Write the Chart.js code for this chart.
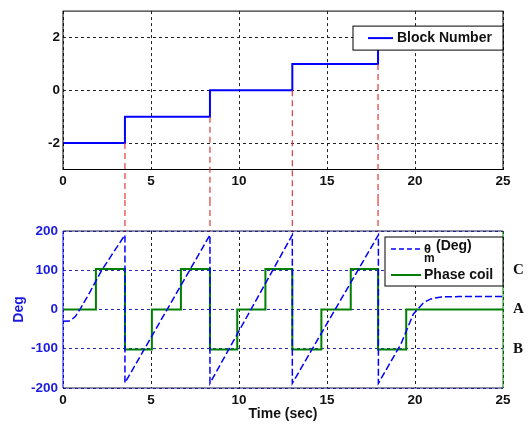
<!DOCTYPE html>
<html>
<head>
<meta charset="utf-8">
<script src="https://cdn.jsdelivr.net/npm/chart.js@4"></script>
<style>
  body { margin: 0; background: #fff; }
  #wrap { position: relative; width: 528px; height: 425px; }
  canvas { position: absolute; left: 0; }
  #top-chart { top: 0; }
  #bottom-chart { top: 200px; }
</style>
</head>
<body>
<div id="wrap">
  <canvas id="top-chart" width="528" height="200"></canvas>
  <canvas id="bottom-chart" width="528" height="225"></canvas>
</div>
<script>
// block number (stepped)
const blockTimes = [0, 3.52, 8.35, 13.03, 17.9, 25];
const blockVals = [-2, -1, 0, 1, 2, 2];

// phase coil (stepped)
const phaseTimes = [0, 1.87, 3.52, 5.05, 6.7, 8.35, 9.9, 11.5, 13.03, 14.68, 16.35, 17.9, 19.5, 25];
const phaseVals = [0, 103, -102, 0, 103, -102, 0, 103, -102, 0, 103, -102, 0, 0];

// theta_m in degrees
const thetaTimes = [0, 0.4, 0.7, 1.0, 1.5, 2.2, 3.52, 3.52, 8.35, 8.35, 13.03, 13.03, 17.92, 17.92, 19.2, 19.9, 20.2, 20.5, 20.9, 21.5, 22.5, 25];
const thetaVals = [-30, -29, -18, 3, 42, 100, 190, -187, 190, -188, 190, -188, 190, -188, -88, -12, 3, 18, 27, 32, 33, 33];

const xTicks = [0, 5, 10, 15, 20, 25];
const topYTicks = [-2, 0, 2];
const degTicks = [-200, -100, 0, 100, 200];
const coilTicks = [-100, 0, 100];
const coilLabels = ['B', 'A', 'C'];

const FONT = "'Liberation Sans', Arial, sans-serif";
const BLUE = '#0000ff';
const GREEN = '#008000';
const RED = '#e03a3a';

Chart.defaults.font.family = FONT;
Chart.defaults.animation = false;

const toPoints = (xs, ys) => xs.map((x, i) => ({ x: x, y: ys[i] }));
const setTicks = list => scale => { scale.ticks = list.map(v => ({ value: v })); };

// times where the block number changes, with the level just before
function blockSteps() {
    const steps = [];
    for (let i = 1; i < blockTimes.length; i++) {
        if (blockVals[i] !== blockVals[i - 1]) steps.push({ t: blockTimes[i], from: blockVals[i - 1] });
    }
    return steps;
}

function redLine(ctx, x, y1, y2) {
    ctx.save();
    ctx.strokeStyle = RED;
    ctx.lineWidth = 1.2;
    ctx.setLineDash([6, 4]);
    ctx.beginPath();
    ctx.moveTo(x, y1);
    ctx.lineTo(x, y2);
    ctx.stroke();
    ctx.restore();
}

const topDecor = {
    id: 'topDecor',
    afterDatasetsDraw(chart) {
        const { ctx, chartArea: a, scales } = chart;
        // frame
        ctx.save();
        ctx.strokeStyle = '#000';
        ctx.lineWidth = 1;
        ctx.strokeRect(a.left, a.top, a.right - a.left, a.bottom - a.top);
        ctx.restore();
        // red connectors
        for (const s of blockSteps()) {
            const x = scales.x.getPixelForValue(s.t);
            redLine(ctx, x, scales.y.getPixelForValue(s.from), chart.height);
        }
        // legend
        const bx = a.left + 290, by = a.top + 15, bw = a.right - a.left - 290, bh = 24;
        ctx.save();
        ctx.fillStyle = '#fff';
        ctx.fillRect(bx, by, bw, bh);
        ctx.strokeStyle = '#000';
        ctx.lineWidth = 1;
        ctx.strokeRect(bx, by, bw, bh);
        ctx.strokeStyle = BLUE;
        ctx.lineWidth = 2;
        ctx.beginPath();
        ctx.moveTo(bx + 15, by + bh / 2);
        ctx.lineTo(bx + 40, by + bh / 2);
        ctx.stroke();
        ctx.fillStyle = '#111';
        ctx.font = 'bold 14px ' + FONT;
        ctx.textBaseline = 'middle';
        ctx.fillText('Block Number', bx + 44, by + bh / 2);
        ctx.restore();
    }
};

const bottomDecor = {
    id: 'bottomDecor',
    afterDatasetsDraw(chart) {
        const { ctx, chartArea: a, scales } = chart;
        ctx.save();
        ctx.lineWidth = 1;
        ctx.strokeStyle = '#1a1a50';
        ctx.beginPath();
        ctx.moveTo(a.left, a.top); ctx.lineTo(a.right, a.top);
        ctx.moveTo(a.left, a.bottom); ctx.lineTo(a.right, a.bottom);
        ctx.stroke();
        ctx.strokeStyle = BLUE;
        ctx.beginPath();
        ctx.moveTo(a.left, a.top); ctx.lineTo(a.left, a.bottom);
        ctx.stroke();
        ctx.strokeStyle = GREEN;
        ctx.beginPath();
        ctx.moveTo(a.right, a.top); ctx.lineTo(a.right, a.bottom);
        ctx.stroke();
        ctx.restore();
        for (const s of blockSteps()) {
            redLine(ctx, scales.x.getPixelForValue(s.t), 0, a.top);
        }
        // legend
        const bx = a.left + 322, by = a.top + 6, bw = a.right - a.left - 322, bh = 49;
        ctx.save();
        ctx.fillStyle = '#fff';
        ctx.fillRect(bx, by, bw, bh);
        ctx.strokeStyle = '#000';
        ctx.strokeRect(bx, by, bw, bh);
        ctx.lineWidth = 1.5;
        ctx.strokeStyle = BLUE;
        ctx.setLineDash([5, 3]);
        ctx.beginPath();
        ctx.moveTo(bx + 6, by + 12); ctx.lineTo(bx + 36, by + 12);
        ctx.stroke();
        ctx.setLineDash([]);
        ctx.strokeStyle = GREEN;
        ctx.lineWidth = 2;
        ctx.beginPath();
        ctx.moveTo(bx + 6, by + 38); ctx.lineTo(bx + 36, by + 38);
        ctx.stroke();
        ctx.fillStyle = '#111';
        ctx.textBaseline = 'middle';
        ctx.font = 'bold 13px ' + FONT;
        ctx.fillText('\u03b8', bx + 39, by + 12);
        ctx.font = 'bold 12px ' + FONT;
        ctx.fillText('m', bx + 39, by + 22);
        ctx.font = 'bold 14px ' + FONT;
        ctx.fillText('(Deg)', bx + 51, by + 9);
        ctx.fillText('Phase coil', bx + 39, by + 38);
        ctx.restore();
    }
};

new Chart(document.getElementById('top-chart'), {
    type: 'line',
    data: {
        datasets: [{
            label: 'Block Number',
            data: toPoints(blockTimes, blockVals),
            stepped: true,
            borderColor: BLUE,
            borderWidth: 2,
            pointRadius: 0
        }]
    },
    options: {
        responsive: false,
        devicePixelRatio: 1,
        layout: { padding: { top: 10.5, right: 25, left: 0, bottom: 0 } },
        plugins: { legend: { display: false }, tooltip: { enabled: false } },
        scales: {
            x: {
                type: 'linear', min: 0, max: 25,
                afterBuildTicks: setTicks(xTicks),
                afterFit: s => { s.height = 30.5; },
                ticks: { color: '#111', font: { size: 13.5, weight: 'bold' }, padding: 4, maxRotation: 0 },
                grid: { color: '#222', lineWidth: 1, drawTicks: false },
                border: { display: false, dash: [3, 3] }
            },
            y: {
                min: -3, max: 3,
                afterBuildTicks: setTicks(topYTicks),
                afterFit: s => { s.width = 63; },
                ticks: { color: '#111', font: { size: 13.5, weight: 'bold' }, padding: 3 },
                grid: { color: '#222', lineWidth: 1, drawTicks: false },
                border: { display: false, dash: [3, 3] }
            }
        }
    },
    plugins: [topDecor]
});

new Chart(document.getElementById('bottom-chart'), {
    type: 'line',
    data: {
        datasets: [{
            label: '\u03b8m (Deg)',
            data: toPoints(thetaTimes, thetaVals),
            borderColor: BLUE,
            borderWidth: 1.5,
            borderDash: [7, 3],
            pointRadius: 0,
            yAxisID: 'y'
        }, {
            label: 'Phase coil',
            data: toPoints(phaseTimes, phaseVals),
            stepped: true,
            borderColor: GREEN,
            borderWidth: 2,
            pointRadius: 0,
            yAxisID: 'y2'
        }]
    },
    options: {
        responsive: false,
        devicePixelRatio: 1,
        layout: { padding: { top: 31, right: 0, left: 0, bottom: 0 } },
        plugins: { legend: { display: false }, tooltip: { enabled: false } },
        scales: {
            x: {
                type: 'linear', min: 0, max: 25,
                afterBuildTicks: setTicks(xTicks),
                afterFit: s => { s.height = 37; },
                ticks: { color: '#111', font: { size: 13.5, weight: 'bold' }, padding: 4, maxRotation: 0 },
                grid: { color: '#222', lineWidth: 1, drawTicks: false },
                border: { display: false, dash: [3, 3] },
                title: { display: true, text: 'Time (sec)', color: '#111', font: { size: 14, weight: 'bold' }, padding: { top: 0, bottom: 2 } }
            },
            y: {
                position: 'left',
                min: -200, max: 200,
                afterBuildTicks: setTicks(degTicks),
                afterFit: s => { s.width = 63; },
                ticks: { color: '#1a1ae0', font: { size: 13.5, weight: 'bold' }, padding: 5 },
                grid: { color: '#2a2ab0', lineWidth: 1, drawTicks: false },
                border: { display: false, dash: [3, 3] },
                title: { display: true, text: 'Deg', color: '#1a1ae0', font: { size: 14, weight: 'bold' }, padding: { top: 11, bottom: 0 } }
            },
            y2: {
                position: 'right',
                min: -200, max: 200,
                afterBuildTicks: setTicks(coilTicks),
                afterFit: s => { s.width = 25; },
                ticks: {
                    color: '#111',
                    font: { family: "'Liberation Serif', 'Times New Roman', serif", size: 15, weight: 'bold' },
                    padding: 10,
                    callback: v => coilLabels[coilTicks.indexOf(v)]
                },
                grid: { display: false, drawTicks: false },
                border: { display: false }
            }
        }
    },
    plugins: [bottomDecor]
});
</script>
</body>
</html>
